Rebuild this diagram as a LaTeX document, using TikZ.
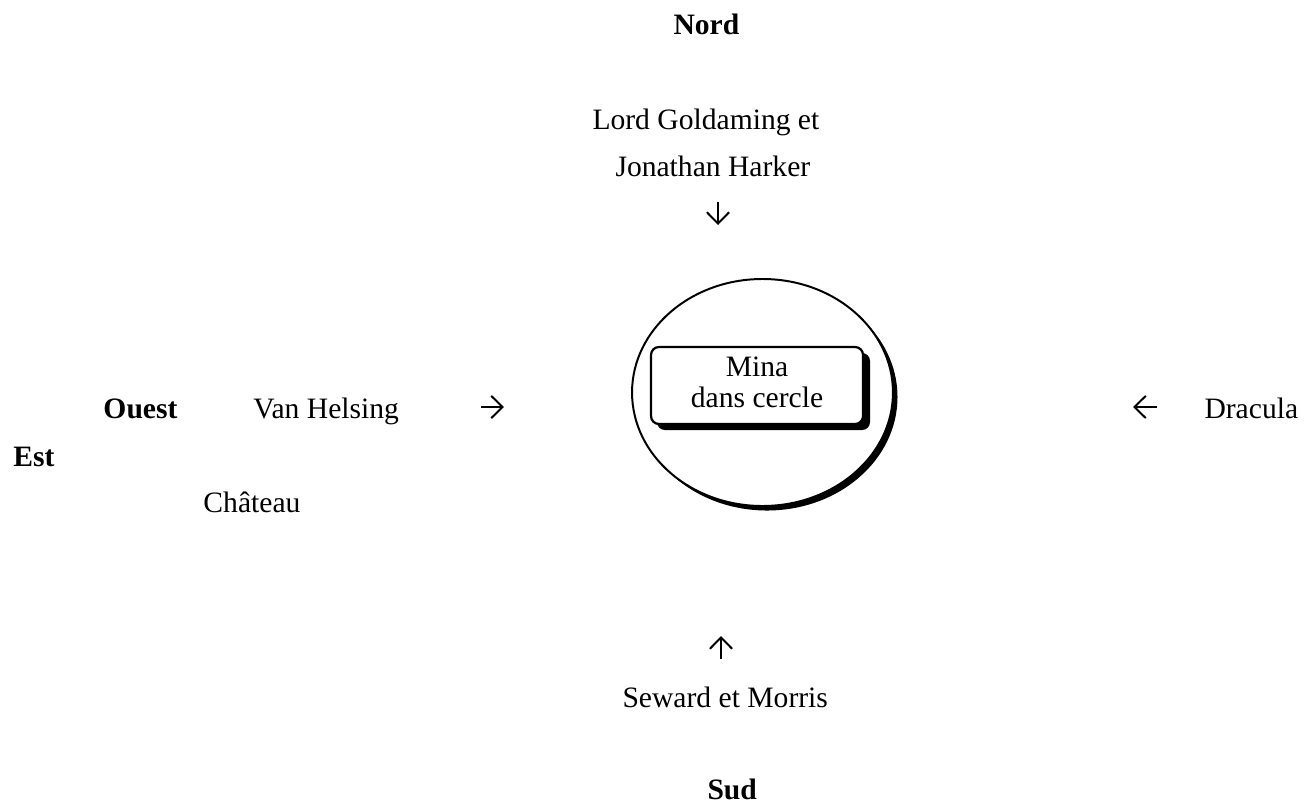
\documentclass[tikz,border=0pt]{standalone}
\usepackage{fontspec}
\setmainfont{Liberation Serif}
\usetikzlibrary{arrows.meta,shapes.geometric}
\tikzset{>={Straight Barb[length=4.6pt,width=9pt,line width=0.8pt]}}
\tikzset{person/.style = {inner sep=0pt,font=\fontsize{12}{12.6}\selectfont}}
\tikzset{heading/.style = {inner sep=0pt,font=\fontsize{12}{12.6}\selectfont\bfseries}}
\tikzset{edge/.style = {->,line width=0.8pt}}

\begin{document}
\begin{tikzpicture}[x=0.4055pt,y=-0.4055pt]
            \useasboundingbox (0,0) rectangle (1309,805);

            % Circle
            \fill (767,397) ellipse [x radius=52.92pt,y radius=46.03pt];
            \node[draw,fill=white,line width=0.8pt,ellipse,inner sep=0pt,
                  minimum width=105.8pt,minimum height=92.05pt] (circle) at (762.5,392.5) {};
            \fill[rounded corners=3.2pt] (657,353) rectangle (870,430);
            \node[draw,fill=white,line width=0.9pt,rounded corners=3.2pt,inner sep=0pt,
                  minimum width=85.97pt,minimum height=31.22pt] (mina) at (757,385.5) {};
            \node[person,anchor=base] (mina1) at (757,376) {Mina};
            \node[person,anchor=base] (mina2) at (757,407) {dans cercle};

            % Points
            \node[heading,anchor=base west] (nord) at (673,34) {Nord};
            \node[heading,anchor=base west] (sud) at (707,799) {Sud};
            \node[heading,anchor=base west] (ouest) at (103,418) {Ouest};
            \node[heading,anchor=base west] (est) at (13,466) {Est};

            % Names
            \node[person,anchor=base west] (lord) at (592,129) {Lord Goldaming et};
            \node[person,anchor=base west] (jonathan) at (615,176) {Jonathan Harker};
            \node[person,anchor=base west] (helsing) at (253,418) {Van Helsing};
            \node[person,anchor=base west] (dracula) at (1204,418) {Dracula};
            \node[person,anchor=base west] (seward) at (622,707) {Seward et Morris};
            \node[person,anchor=base west] (chateau) at (203,512) {Château};

            % Arrows
            \coordinate (n1) at (718,202);
            \coordinate (n2) at (718,225);
            \coordinate (w1) at (481,407);
            \coordinate (w2) at (504,407);
            \coordinate (e1) at (1157,407);
            \coordinate (e2) at (1133,407);
            \coordinate (s1) at (721,659);
            \coordinate (s2) at (721,636);
            \draw[edge] (n1) -- (n2);
            \draw[edge] (w1) -- (w2);
            \draw[edge] (e1) -- (e2);
            \draw[edge] (s1) -- (s2);
        \end{tikzpicture}
\end{document}
